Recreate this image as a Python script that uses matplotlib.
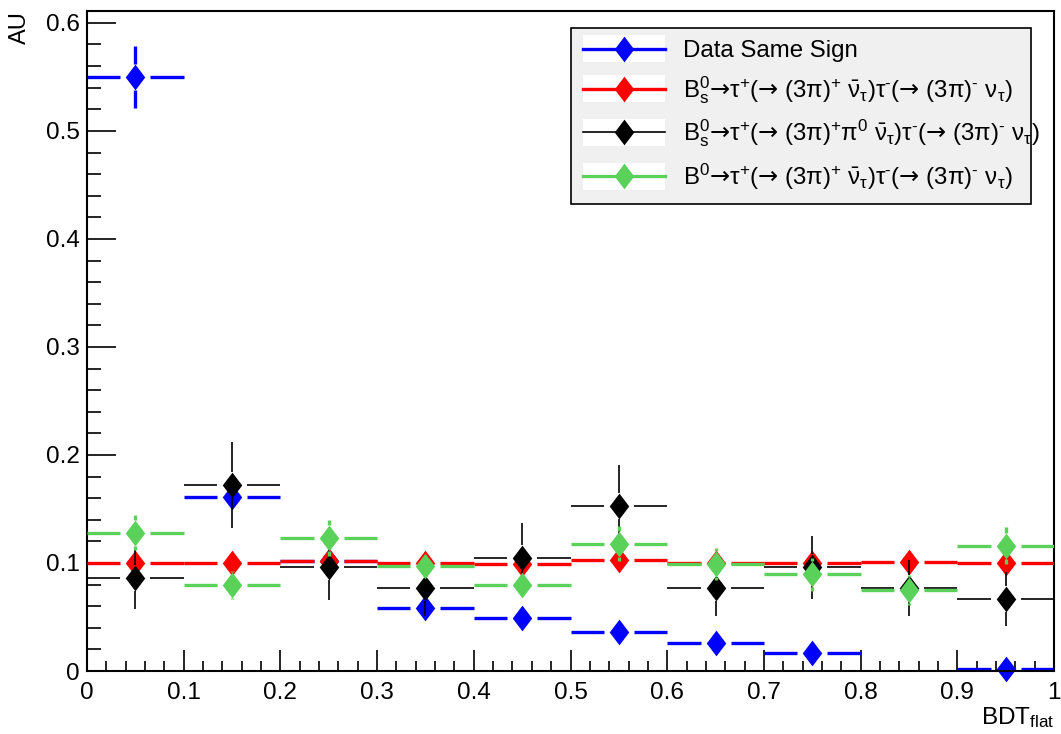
import matplotlib
matplotlib.use('Agg')
import matplotlib.pyplot as plt
import numpy as np
from matplotlib.lines import Line2D
from matplotlib.patches import Rectangle
from matplotlib.legend_handler import HandlerLine2D
from matplotlib.ticker import MultipleLocator, FuncFormatter

plt.rcParams['font.family'] = ['Liberation Sans', 'DejaVu Sans']
plt.rcParams['mathtext.fontset'] = 'custom'
plt.rcParams['mathtext.rm'] = 'Liberation Sans'
plt.rcParams['mathtext.it'] = 'Liberation Sans'
plt.rcParams['mathtext.bf'] = 'Liberation Sans:bold'
plt.rcParams['mathtext.sf'] = 'DejaVu Sans'

# BDT_flat bins (10 bins from 0 to 1)
bin_edges = np.linspace(0, 1, 11)

# Data Same Sign
blue_vals = [0.550, 0.161, 0.102, 0.058, 0.049, 0.036, 0.026, 0.017, np.nan, 0.002]
blue_errs = [0.029, 0.012, 0.008, 0.006, 0.005, 0.004, 0.004, 0.003, 0.0, 0.001]

# Bs0 -> tau tau (3pi nu)
red_vals = [0.100, 0.100, 0.1015, 0.0997, 0.0988, 0.1025, 0.0997, 0.1003, 0.101, 0.1003]
red_errs = [0.003] * 10

# Bs0 -> tau tau (3pi pi0 nu)
black_vals = [0.086, 0.172, 0.096, 0.0765, 0.105, 0.153, 0.0765, 0.096, 0.077, 0.067]
black_errs = [0.029, 0.040, 0.030, 0.026, 0.032, 0.038, 0.026, 0.029, 0.026, 0.025]

# B0 -> tau tau (3pi nu)
green_vals = [0.128, 0.080, 0.123, 0.097, 0.080, 0.118, 0.099, 0.0895, 0.075, 0.116]
green_errs = [0.016, 0.013, 0.017, 0.010, 0.010, 0.016, 0.015, 0.015, 0.014, 0.017]

arr = r'$\mathsf{→}$'
labels = [
    'Data Same Sign',
    r'B$^{0}_{\rm s}$' + arr + r'τ$^{+}$(' + arr + r' (3π)$^{+}$ $\bar{\nu}_{\tau}$)τ$^{\text{-}}$(' + arr + r' (3π)$^{\text{-}}$ ν$_{\tau}$)',
    r'B$^{0}_{\rm s}$' + arr + r'τ$^{+}$(' + arr + r' (3π)$^{+}$π$^{0}$ $\bar{\nu}_{\tau}$)τ$^{\text{-}}$(' + arr + r' (3π)$^{\text{-}}$ ν$_{\tau}$)',
    r'B$^{0}$' + arr + r'τ$^{+}$(' + arr + r' (3π)$^{+}$ $\bar{\nu}_{\tau}$)τ$^{\text{-}}$(' + arr + r' (3π)$^{\text{-}}$ ν$_{\tau}$)',
]
colors = ['#0000ff', '#ff0000', '#000000', '#5ad25a']
widths = [2.4, 2.4, 1.2, 2.4]

# ROOT-like diamond marker
diamond = [(0, 1), (0.76, 0), (0, -1), (-0.76, 0), (0, 1)]

fig = plt.figure(figsize=(10.61, 7.34), dpi=100)
ax = fig.add_axes([87 / 1061, 63 / 734, 967 / 1061, 660 / 734])
ax.set_xlim(0, 1)
ax.set_ylim(0, 0.611)

# gap around the marker (ROOT style), in px converted to data units
gap_x = 15 / 967 * 1.0
gap_y = 13 / 660 * 0.611

centers = 0.5 * (bin_edges[:-1] + bin_edges[1:])
series = [(blue_vals, blue_errs), (red_vals, red_errs), (black_vals, black_errs), (green_vals, green_errs)]

for z, ((vals, errs), col, lw) in enumerate(zip(series, colors, widths)):
    for lo, hi, xc, v, e in zip(bin_edges[:-1], bin_edges[1:], centers, vals, errs):
        if np.isnan(v):
            continue
        ax.plot([lo, xc - gap_x], [v, v], color=col, lw=lw, zorder=2 + z, solid_capstyle='butt')
        ax.plot([xc + gap_x, hi], [v, v], color=col, lw=lw, zorder=2 + z, solid_capstyle='butt')
        if e > gap_y:
            ax.plot([xc, xc], [v - e, v - gap_y], color=col, lw=lw, zorder=2 + z, solid_capstyle='butt')
            ax.plot([xc, xc], [v + gap_y, v + e], color=col, lw=lw, zorder=2 + z, solid_capstyle='butt')
    ax.plot(centers, vals, ls='none', marker=diamond, ms=18.5, mew=0, color=col, zorder=2 + z, clip_on=False)

# axes styling
for sp in ax.spines.values():
    sp.set_linewidth(1.5)
ax.xaxis.set_major_locator(MultipleLocator(0.1))
ax.xaxis.set_minor_locator(MultipleLocator(0.02))
ax.yaxis.set_major_locator(MultipleLocator(0.1))
ax.yaxis.set_minor_locator(MultipleLocator(0.02))
fmt = FuncFormatter(lambda v, p: ('%g' % round(v, 2)))
ax.xaxis.set_major_formatter(fmt)
ax.yaxis.set_major_formatter(fmt)
ax.tick_params(axis='both', which='both', direction='in', top=False, right=False, labelsize=17.5, width=1.2)
ax.tick_params(axis='y', which='major', length=21, pad=5)
ax.tick_params(axis='y', which='minor', length=10)
ax.tick_params(axis='x', which='major', length=15, pad=8)
ax.tick_params(axis='x', which='minor', length=7.5)

fig.text(9 / 1061, 1 - 11 / 734, 'AU', rotation=90, ha='left', va='top', fontsize=17)
fig.text(1054 / 1061, 1 - 730 / 734, r'BDT$_{\rm flat}$', ha='right', va='bottom', fontsize=17.5)


class WhiteBoxHandler(HandlerLine2D):
    def create_artists(self, legend, orig_handle, xdescent, ydescent, width, height, fontsize, trans):
        arts = super().create_artists(legend, orig_handle, xdescent, ydescent, width, height, fontsize, trans)
        pad = 0.3 * height
        rect = Rectangle((-xdescent, -ydescent - pad), width, height + 2 * pad,
                         facecolor='white', edgecolor='none', transform=trans)
        return [rect] + arts


handles = [Line2D([], [], color=c, lw=lw, marker=diamond, ms=18.5, mew=0) for c, lw in zip(colors, widths)]
leg_h = 173 / 734
leg = ax.legend(handles, labels, loc='upper left',
                bbox_to_anchor=(571 / 1061, 1 - 28 / 734 - leg_h, 460 / 1061, leg_h), mode='expand',
                bbox_transform=fig.transFigure, borderaxespad=0, fontsize=17.3,
                handlelength=3.4, handletextpad=0.75, labelspacing=0.5, borderpad=0.5,
                frameon=True, fancybox=False, framealpha=1, facecolor='#f0f0f0', edgecolor='black',
                handler_map={Line2D: WhiteBoxHandler(numpoints=1)})
leg.get_frame().set_linewidth(1.2)
leg.set_zorder(20)

fig.savefig('out.png', dpi=100)
